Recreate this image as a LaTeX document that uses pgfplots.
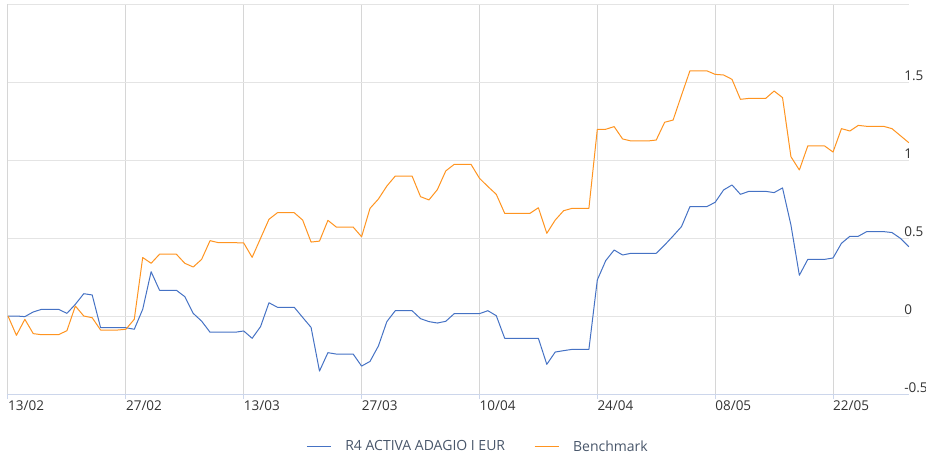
\documentclass[border=0pt]{standalone}
\usepackage{fontspec}
\setmainfont{Open Sans}
\usepackage{pgfplots}
\usepackage{pgfplotstable}
\pgfplotsset{compat=1.18}
\definecolor{fund}{RGB}{69,114,196}
\definecolor{bench}{RGB}{255,148,32}
\definecolor{gridh}{RGB}{228,228,228}
\definecolor{gridv}{RGB}{214,214,214}
\definecolor{axisc}{RGB}{204,214,235}
\definecolor{legtext}{RGB}{72,86,106}
\definecolor{ticktext}{RGB}{51,51,51}
\pgfplotstableread{
d fund bench
0 0 0
1 0.0 -0.124
2 -0.004 -0.021
3 0.026 -0.113
4 0.043 -0.12
5 0.043 -0.12
6 0.043 -0.12
7 0.017 -0.094
8 0.075 0.064
9 0.143 0.0
10 0.135 -0.011
11 -0.075 -0.09
12 -0.075 -0.09
13 -0.075 -0.09
14 -0.075 -0.085
15 -0.085 -0.021
16 0.043 0.375
17 0.284 0.338
18 0.165 0.396
19 0.165 0.396
20 0.165 0.396
21 0.124 0.338
22 0.017 0.314
23 -0.033 0.363
24 -0.104 0.483
25 -0.104 0.470
26 -0.104 0.470
27 -0.104 0.470
28 -0.096 0.468
29 -0.143 0.376
30 -0.068 0.498
31 0.085 0.62
32 0.056 0.662
33 0.056 0.662
34 0.056 0.662
35 -0.009 0.615
36 -0.073 0.474
37 -0.353 0.48
38 -0.235 0.613
39 -0.244 0.570
40 -0.244 0.570
41 -0.244 0.570
42 -0.321 0.508
43 -0.291 0.690
44 -0.192 0.75
45 -0.036 0.833
46 0.034 0.897
47 0.034 0.897
48 0.034 0.897
49 -0.017 0.765
50 -0.036 0.744
51 -0.045 0.81
52 -0.034 0.93
53 0.015 0.972
54 0.015 0.972
55 0.015 0.972
56 0.015 0.883
57 0.034 0.83
58 0.002 0.78
59 -0.143 0.658
60 -0.143 0.658
61 -0.143 0.658
62 -0.143 0.658
63 -0.143 0.694
64 -0.310 0.53
65 -0.231 0.615
66 -0.222 0.675
67 -0.214 0.69
68 -0.214 0.69
69 -0.214 0.69
70 0.231 1.197
71 0.355 1.197
72 0.423 1.214
73 0.391 1.135
74 0.402 1.122
75 0.402 1.122
76 0.402 1.122
77 0.402 1.128
78 0.455 1.242
79 0.513 1.256
80 0.573 1.415
81 0.701 1.572
82 0.701 1.572
83 0.701 1.572
84 0.729 1.549
85 0.808 1.545
86 0.84 1.517
87 0.78 1.389
88 0.799 1.395
89 0.799 1.395
90 0.799 1.395
91 0.791 1.442
92 0.821 1.40
93 0.583 1.021
94 0.261 0.936
95 0.363 1.09
96 0.363 1.09
97 0.363 1.09
98 0.372 1.051
99 0.466 1.201
100 0.511 1.186
101 0.511 1.222
102 0.541 1.216
103 0.541 1.216
104 0.541 1.216
105 0.535 1.201
106 0.498 1.156
107 0.444 1.111
}\datatable
\begin{document}
\begin{tikzpicture}
\path[use as bounding box] (0,0) rectangle (926pt,-455pt);
\begin{axis}[
 at={(8pt,-4pt)}, anchor=north west,
 scale only axis, width=900.8pt, height=390pt,
 xmin=0, xmax=107, ymin=-0.5, ymax=2,
 axis x line*=bottom, axis y line*=right,
 x axis line style={draw=axisc, line width=1pt, -},
 y axis line style={draw=none, -},
 xtick={0,14,...,98},
 xticklabels={13/02,27/02,13/03,27/03,10/04,24/04,08/05,22/05},
 ytick={-0.5,0,0.5,1,1.5,2},
 yticklabels={-0.5,0,0.5,1,1.5,{}},
 xmajorgrids, ymajorgrids,
 x grid style={gridv, line width=1pt},
 y grid style={gridh, line width=1pt},
 major x tick style={draw=axisc, line width=1pt},
 major y tick style={draw=none},
 xtick align=outside, ytick align=inside,
 major tick length=5pt,
 xticklabel style={anchor=north west, inner sep=0pt, yshift=-2pt, font=\fontsize{13.5}{16}\selectfont, text=ticktext},
 yticklabel style={anchor=base west, inner sep=0pt, xshift=-4.7pt, yshift=1.5pt, font=\fontsize{13.5}{16}\selectfont, text=ticktext},
 legend style={at={(0.5218,-0.135)}, anchor=center, draw=none, fill=none,
   legend columns=2, font=\fontsize{14}{16}\selectfont, text=legtext,
   /tikz/every odd column/.append style={column sep=12pt},
   /tikz/every even column/.append style={column sep=27pt}},
 legend cell align=left,
 legend image code/.code={\draw[#1] (0pt,0pt) -- (24pt,0pt);},
 clip=false,
]
\addplot[fund, line width=1pt, line join=round] table[x=d, y=fund] {\datatable};
\addlegendentry{R4 ACTIVA ADAGIO I EUR}
\addplot[bench, line width=1pt, line join=round] table[x=d, y=bench] {\datatable};
\addlegendentry{Benchmark}
\end{axis}
\end{tikzpicture}
\end{document}
